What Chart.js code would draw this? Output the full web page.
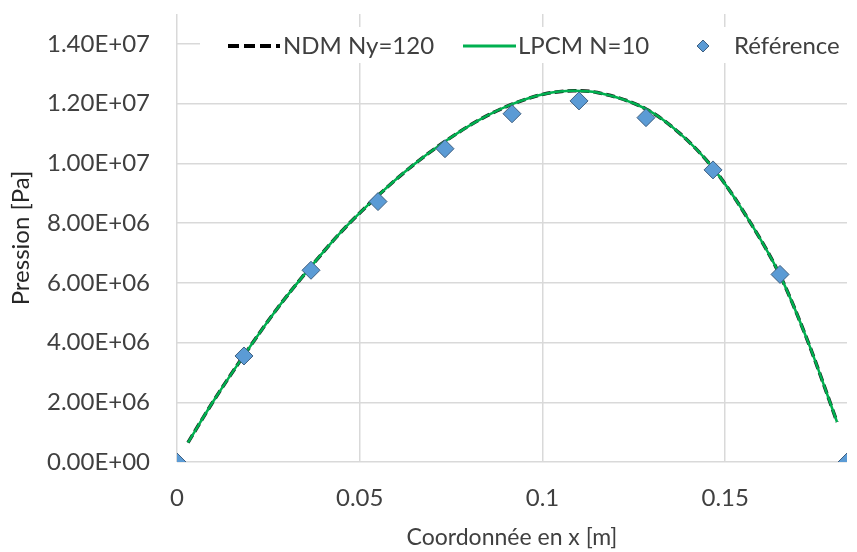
<!DOCTYPE html>
<html>
<head>
<meta charset="utf-8">
<script src="https://cdn.jsdelivr.net/npm/chart.js@4/dist/chart.umd.min.js"></script>
<style>
  html, body { margin: 0; padding: 0; background: #fff; }
  #wrap { width: 857px; height: 552px; position: relative; }
</style>
</head>
<body>
<div id="wrap"><canvas id="chart"></canvas></div>
<script>
// === DATA ===
const curveX = [0.0030, 0.0095, 0.0186, 0.0275, 0.0367, 0.0458, 0.0550, 0.0642, 0.0733, 0.0825,
  0.0917, 0.1005, 0.1086, 0.1150, 0.1283, 0.1375, 0.1467, 0.1558, 0.1650, 0.1728, 0.1806];
const ndmY = [0.65e6, 1.95e6, 3.62e6, 5.15e6, 6.55e6, 7.82e6, 8.92e6, 9.90e6, 10.73e6, 11.44e6,
  11.98e6, 12.32e6, 12.43e6, 12.37e6, 11.82e6, 11.01e6, 9.84e6, 8.23e6, 6.25e6, 3.98e6, 1.34e6];
const lpcmY = [0.65e6, 1.95e6, 3.62e6, 5.15e6, 6.55e6, 7.82e6, 8.92e6, 9.90e6, 10.73e6, 11.44e6,
  11.98e6, 12.32e6, 12.43e6, 12.37e6, 11.82e6, 11.01e6, 9.84e6, 8.23e6, 6.25e6, 3.98e6, 1.34e6];
const refX = [0, 0.01833, 0.03667, 0.055, 0.07333, 0.09167, 0.11, 0.12833, 0.14667, 0.165, 0.18333];
const refY = [0, 3.55e6, 6.42e6, 8.72e6, 10.49e6, 11.66e6, 12.09e6, 11.53e6, 9.78e6, 6.28e6, 0];
const xTicks = [0, 0.05, 0.1, 0.15];
const yTicks = [0, 2e6, 4e6, 6e6, 8e6, 10e6, 12e6, 14e6];
const seriesNames = ["NDM Ny=120", "LPCM N=10", "Référence"];
// =====================================

const FONT = "Lato, 'Open Sans', sans-serif";
const TXT = "#404040";
const GRID = "#d9d9d9";
const GREEN = "#00b050";
const BLUE = "#5b9bd5";

function pts(xs, ys) { return xs.map((x, i) => ({ x: x, y: ys[i] })); }

function fmtSci(v) {
  if (v === 0) return "0.00E+00";
  const e = Math.floor(Math.log10(Math.abs(v)) + 1e-9);
  const m = v / Math.pow(10, e);
  return m.toFixed(2) + "E" + (e >= 0 ? "+" : "-") + String(Math.abs(e)).padStart(2, "0");
}

// legend drawn inside the plot area, on a white band, like the original
const legendPlugin = {
  id: "insideLegend",
  afterDraw(chart) {
    const ctx = chart.ctx;
    const y = 46;
    ctx.save();
    ctx.fillStyle = "#fff";
    ctx.fillRect(200, 27, 657, 36);
    ctx.font = "24px " + FONT;
    ctx.fillStyle = TXT;
    ctx.textBaseline = "middle";

    // NDM: black dashes
    ctx.strokeStyle = "#000";
    ctx.lineWidth = 4;
    ctx.setLineDash([11, 5]);
    ctx.beginPath(); ctx.moveTo(228, y); ctx.lineTo(280, y); ctx.stroke();
    ctx.setLineDash([]);
    ctx.fillText(seriesNames[0], 283, y);

    // LPCM: green line
    ctx.strokeStyle = GREEN;
    ctx.lineWidth = 3;
    ctx.beginPath(); ctx.moveTo(463, y); ctx.lineTo(516, y); ctx.stroke();
    ctx.fillText(seriesNames[1], 518, y);

    // Reference: diamond
    const r = 6;
    ctx.fillStyle = BLUE;
    ctx.strokeStyle = "#3f5f80";
    ctx.lineWidth = 1;
    ctx.beginPath();
    ctx.moveTo(703, y - r); ctx.lineTo(703 + r, y); ctx.lineTo(703, y + r); ctx.lineTo(703 - r, y);
    ctx.closePath(); ctx.fill(); ctx.stroke();
    ctx.fillStyle = TXT;
    ctx.fillText(seriesNames[2], 734, y);
    ctx.restore();
  }
};

new Chart(document.getElementById("chart"), {
  type: "scatter",
  data: {
    datasets: [
      {
        label: seriesNames[0],
        data: pts(curveX, ndmY),
        showLine: true,
        borderColor: "#1a1a1a",
        borderWidth: 3.5,
        borderDash: [9, 4],
        pointRadius: 0,
        cubicInterpolationMode: "monotone",
        order: 3
      },
      {
        label: seriesNames[1],
        data: pts(curveX, lpcmY),
        showLine: true,
        borderColor: GREEN,
        borderWidth: 2.5,
        pointRadius: 0,
        cubicInterpolationMode: "monotone",
        order: 2
      },
      {
        label: seriesNames[2],
        data: pts(refX, refY),
        showLine: false,
        pointStyle: "rectRot",
        pointRadius: 9,
        backgroundColor: BLUE,
        borderColor: "#3f5f80",
        borderWidth: 1,
        order: 1
      }
    ]
  },
  options: {
    responsive: true,
    maintainAspectRatio: false,
    animation: false,
    layout: { padding: { top: 14, right: 2, left: 0, bottom: 0 } },
    plugins: {
      legend: { display: false },
      tooltip: { enabled: false }
    },
    scales: {
      x: {
        type: "linear",
        min: 0,
        max: 0.18333,
        afterFit(s) { s.height = 90; s.paddingLeft = 0; s.paddingRight = 0; },
        afterBuildTicks(s) { s.ticks = xTicks.map(v => ({ value: v })); },
        grid: { color: GRID, lineWidth: 1.5, drawTicks: false },
        border: { display: false },
        ticks: {
          padding: 22,
          color: TXT,
          font: { family: FONT, size: 24 },
          callback: v => String(parseFloat(v.toFixed(4)))
        },
        title: {
          display: true,
          text: "Coordonnée en x [m]",
          color: TXT,
          font: { family: FONT, size: 23 },
          padding: { top: 0, bottom: 1 }
        }
      },
      y: {
        type: "linear",
        min: 0,
        max: 1.5e7,
        afterFit(s) { s.width = 177; s.paddingTop = 0; s.paddingBottom = 0; },
        afterBuildTicks(s) { s.ticks = yTicks.map(v => ({ value: v })); },
        grid: { color: GRID, lineWidth: 1.5, drawTicks: false },
        border: { display: false },
        ticks: {
          padding: 27,
          color: TXT,
          font: { family: FONT, size: 24 },
          callback: v => fmtSci(v)
        },
        title: {
          display: true,
          text: "Pression [Pa]",
          color: "#262626",
          font: { family: FONT, size: 24 },
          padding: { top: 7, bottom: 0 }
        }
      }
    }
  },
  plugins: [legendPlugin]
});
</script>
</body>
</html>
